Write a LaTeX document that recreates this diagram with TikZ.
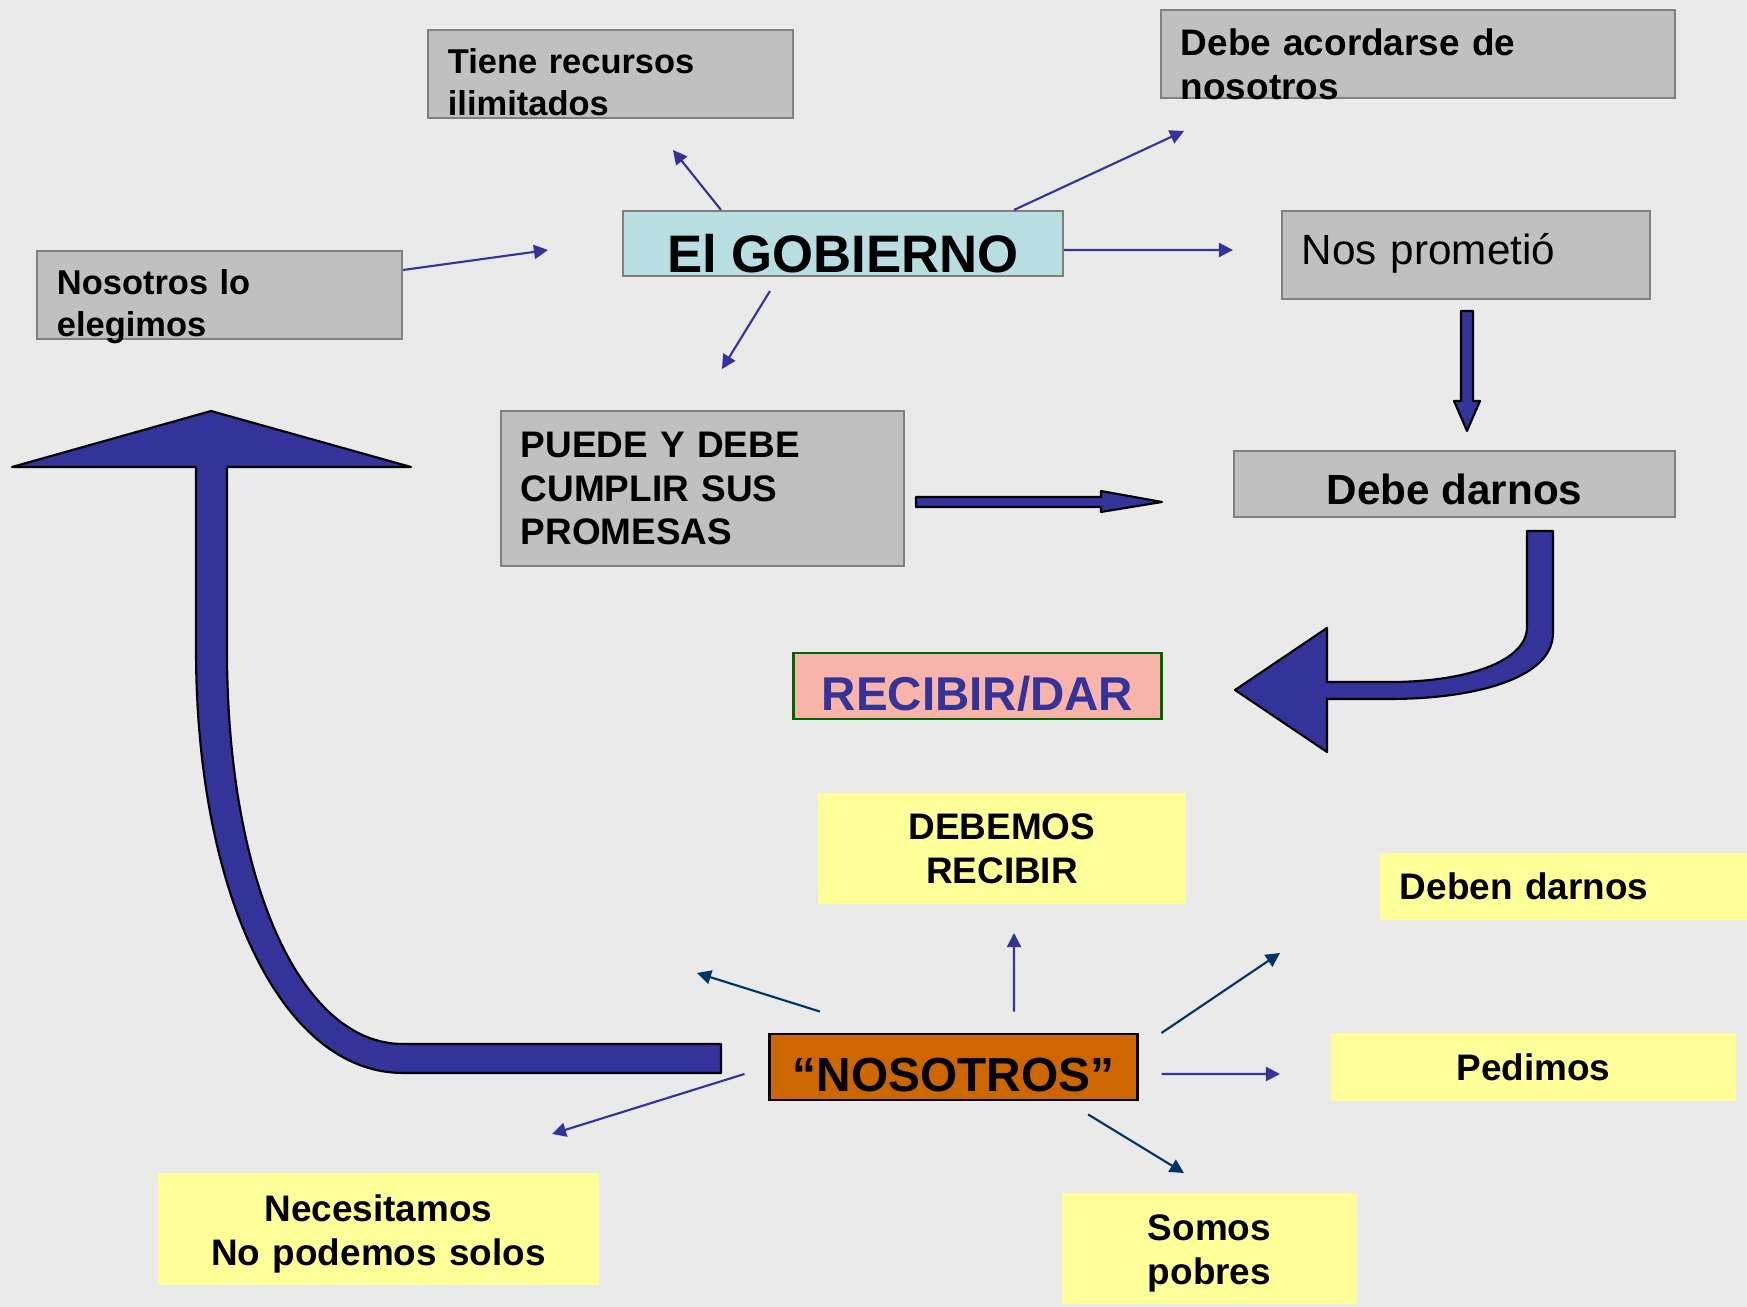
\documentclass[tikz,border=0pt]{standalone}
\usepackage{fontspec}
\setmainfont{Liberation Sans}
\usetikzlibrary{arrows.meta,positioning}

\definecolor{fondo}{HTML}{EAEAEA}
\definecolor{gris}{HTML}{C0C0C0}
\definecolor{grisborde}{HTML}{808080}
\definecolor{celeste}{HTML}{B8DEE2}
\definecolor{salmon}{HTML}{F8B4A8}
\definecolor{verde}{HTML}{006600}
\definecolor{amarillo}{HTML}{FFFF99}
\definecolor{naranja}{HTML}{CC6600}
\definecolor{azul}{HTML}{333399}
\definecolor{marino}{HTML}{003366}

\begin{document}
\begin{tikzpicture}[x=0.01cm, y=-0.01cm, >={Triangle[length=4pt,width=4pt]},
   caja/.style={rectangle, inner xsep=0.2cm, inner ysep=0pt, font=\fontsize{10.5}{12.5}\selectfont\bfseries},
   gris2/.style={caja, fill=gris, draw=grisborde, line width=0.6pt, minimum height=0.88cm, align=left},
   chica/.style={font=\fontsize{9.8}{11.7}\selectfont\bfseries, text height=11.7pt, text depth=11.7pt},
   amar/.style={caja, fill=amarillo, align=center},
   flecha/.style={->, azul, line width=0.6pt},
   flechab/.style={->, marino, line width=0.6pt},
   bloque/.style={fill=azul, draw=black, line width=0.6pt, line join=round}]

   \fill[fondo] (0,0) rectangle (1747,1307);
   \useasboundingbox (0,0) rectangle (1747,1307);

   \node[gris2, chica, minimum width=3.65cm, text width=3.25cm] (tiene) at (610.5,74) {Tiene recursos\\ilimitados};
   \node[gris2, minimum width=5.14cm, text width=4.74cm, text height=12.9pt, text depth=12pt] (acordarse) at (1418,54) {Debe acordarse de\\nosotros};
   \node[gris2, chica, minimum width=3.65cm, text width=3.25cm] (elegimos) at (219.5,295) {Nosotros lo\\elegimos};
   \node[caja, fill=celeste, draw=grisborde, line width=0.6pt, minimum width=4.4cm, minimum height=0.65cm,
         font=\fontsize{15}{18}\selectfont\bfseries, text height=16.4pt, text depth=0pt] (gobierno) at (843,243.5) {El GOBIERNO};
   \node[caja, fill=gris, draw=grisborde, line width=0.6pt, minimum width=3.68cm, minimum height=0.88cm,
         text width=3.28cm, align=left, font=\fontsize{12}{14}\selectfont, text depth=3.4pt] (prometio) at (1466,255) {Nos prometió};
   \node[caja, fill=gris, draw=grisborde, line width=0.6pt, minimum width=4.03cm, minimum height=1.55cm,
         text width=3.63cm, align=left] (puede) at (702.5,488.5) {PUEDE Y DEBE\\CUMPLIR SUS\\PROMESAS};
   \node[caja, fill=gris, draw=grisborde, line width=0.6pt, minimum width=4.41cm, minimum height=0.66cm,
         font=\fontsize{12}{14}\selectfont\bfseries, text height=11.8pt, text depth=0pt] (darnos) at (1454.5,484) {Debe darnos};
   \node[caja, fill=salmon, draw=verde, line width=0.8pt, minimum width=3.67cm, minimum height=0.66cm, text=azul,
         font=\fontsize{13.5}{16}\selectfont\bfseries, text height=13.7pt, text depth=0pt] (recibir) at (977.5,686) {RECIBIR/DAR};
   \node[amar, minimum width=3.68cm, minimum height=1.11cm] (debemos) at (1002,848.5) {DEBEMOS\\RECIBIR};
   \node[caja, fill=amarillo, minimum width=3.67cm, minimum height=0.67cm, text width=3.27cm, align=left] (deben) at (1563.5,886.5) {Deben darnos};
   \node[amar, minimum width=4.05cm, minimum height=0.68cm] (pedimos) at (1533.5,1067) {Pedimos};
   \node[amar, minimum width=2.95cm, minimum height=1.11cm, text width=2.55cm, text height=10.2pt] (somos) at (1209.5,1248.5) {Somos\\pobres};
   \node[amar, minimum width=4.41cm, minimum height=1.12cm, text width=4.01cm, text height=10.2pt] (necesitamos) at (378.5,1229) {Necesitamos\\No podemos solos};
   \node[caja, fill=naranja, draw=black, line width=0.8pt, minimum width=3.67cm, minimum height=0.66cm,
         font=\fontsize{13.6}{16}\selectfont\bfseries, text height=14pt, text depth=0pt] (nosotros) at (953.5,1067) {“NOSOTROS”};

   \coordinate (aTiene) at (673,150);
   \coordinate (aAcordarse) at (1184,131);
   \coordinate (aPrometio) at (1233,250);
   \coordinate (aPuede) at (722,369);
   \coordinate (aGobierno) at (548,250);
   \draw[flecha] ([xshift=-1.22cm]gobierno.north) -- (aTiene);
   \draw[flecha] ([xshift=1.71cm]gobierno.north) -- (aAcordarse);
   \draw[flecha] ([yshift=-0.065cm]gobierno.east) -- (aPrometio);
   \draw[flecha] ([xshift=-0.73cm,yshift=-0.14cm]gobierno.south) -- (aPuede);
   \draw[flecha] ([yshift=0.25cm]elegimos.east) -- (aGobierno);

   \coordinate (aIzq) at (697,973);
   \coordinate (aDebemos) at (1014,933);
   \coordinate (aDeben) at (1280,953);
   \coordinate (aPedimos) at (1280,1074);
   \coordinate (aSomos) at (1184,1173);
   \coordinate (aNecesitamos) at (552,1134);
   \draw[flechab] ([xshift=-1.335cm,yshift=0.21cm]nosotros.north) -- (aIzq);
   \draw[flecha] ([xshift=0.605cm,yshift=0.21cm]nosotros.north) -- (aDebemos);
   \draw[flechab] ([xshift=0.23cm,yshift=0.34cm]nosotros.east) -- (aDeben);
   \draw[flecha] ([xshift=0.23cm,yshift=-0.07cm]nosotros.east) -- (aPedimos);
   \draw[flechab] ([xshift=1.345cm,yshift=-0.13cm]nosotros.south) -- (aSomos);
   \draw[flecha] ([xshift=-0.24cm,yshift=-0.07cm]nosotros.west) -- (aNecesitamos);

   \draw[bloque] (1461,311) -- (1473,311) -- (1473,401) -- (1480,401) -- (1467,431)
                 -- (1454,401) -- (1461,401) -- cycle;
   \draw[bloque] (916,497) -- (1101,497) -- (1101,491) -- (1162,502) -- (1101,512)
                 -- (1101,507) -- (916,507) -- cycle;
   \draw[bloque] (1527,531) -- (1553,531) -- (1553,633) .. controls (1553,680) and (1470,699) .. (1390,699)
                 -- (1327,699) -- (1327,752) -- (1235,690) -- (1327,628) -- (1327,682) -- (1390,682)
                 .. controls (1465,682) and (1527,662) .. (1527,627) -- cycle;
   \draw[bloque] (211,411) -- (411,467) -- (227,467) -- (227,650) .. controls (227,880) and (300,1044) .. (403,1044)
                 -- (721,1044) -- (721,1073) -- (403,1073) .. controls (280,1073) and (196,890) .. (196,650)
                 -- (196,467) -- (12,467) -- cycle;

\end{tikzpicture}
\end{document}
